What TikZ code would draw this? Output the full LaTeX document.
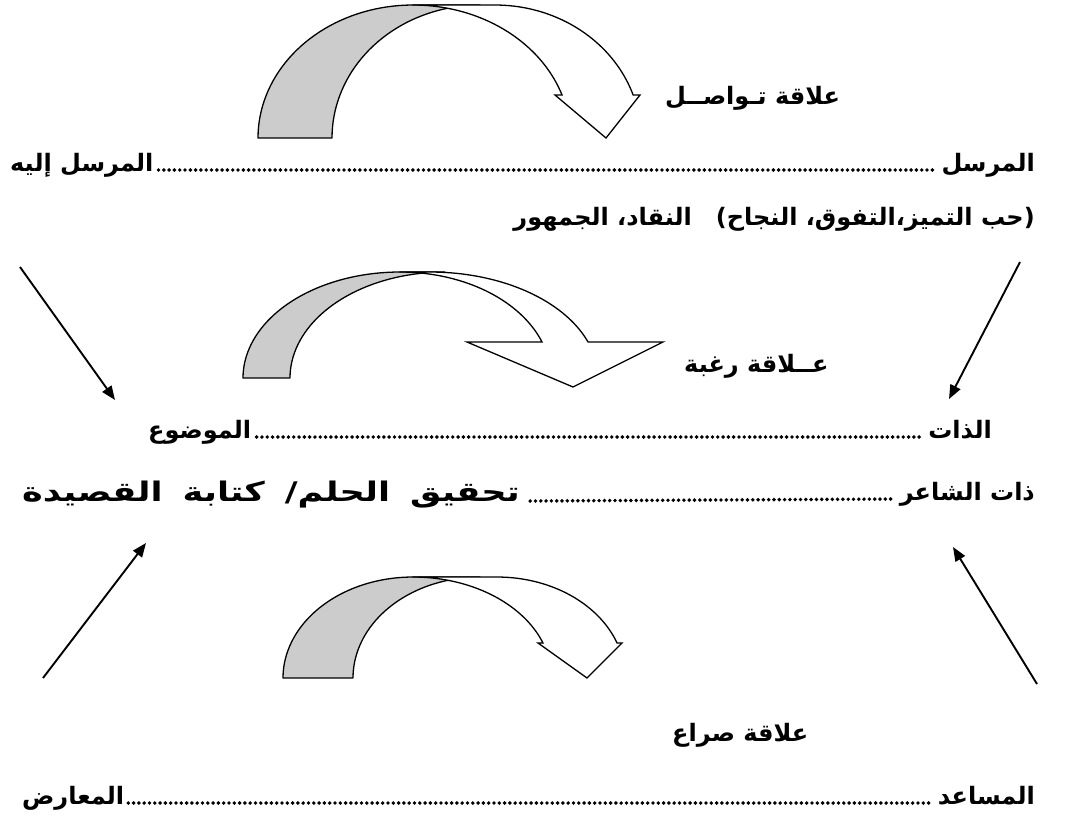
\documentclass[tikz,border=0pt]{standalone}
\usepackage{fontspec}
\usetikzlibrary{arrows.meta}
\newfontfamily\arabicfont[Script=Arabic]{DejaVu Sans}
\TeXXeTstate=1
\begin{document}
\begin{tikzpicture}[x=1pt,y=-1pt,
  txt/.style={font=\fontsize{24}{28}\selectfont\arabicfont\bfseries, inner sep=0pt},
  back/.style={fill=black!20, draw=black, line width=1.3pt, line join=round},
  front/.style={fill=white, draw=black, line width=1.3pt, line join=miter},
  ptr/.style={line width=1.9pt, -{Triangle[length=14pt,width=11pt]}},
  dotline/.style={line width=3.9pt, line cap=round, dash pattern=on 0pt off 5.3pt}]
\useasboundingbox (0,0) rectangle (1067,820);

% ---------- block arrow 1 (communication) ----------
\draw[back] plot[domain=180:90, samples=40] ({413+155*cos(\x)},{138-133*sin(\x)})
  -- plot[domain=90:180, samples=40] ({480+148*cos(\x)},{138-133*sin(\x)}) -- cycle;
\draw[front] (413,5) -- plot[domain=90:18.9, samples=40] ({495+146*cos(\x)},{138-133*sin(\x)})
  -- (640,95) -- (606,138) -- (555,95)
  -- plot[domain=18.9:90, samples=40] ({413+157.5*cos(\x)},{138-133*sin(\x)}) -- cycle;

% ---------- block arrow 2 (desire) ----------
\draw[back] plot[domain=180:90, samples=40] ({400+157*cos(\x)},{378-106*sin(\x)})
  -- plot[domain=90:180, samples=40] ({445+155*cos(\x)},{378-106*sin(\x)}) -- cycle;
\draw[front] (400,272) -- plot[domain=90:19.9, samples=40] ({430+168*cos(\x)},{378-106*sin(\x)})
  -- (663,342) -- (573,387) -- (467,342)
  -- plot[domain=19.9:90, samples=40] ({400+151*cos(\x)},{378-106*sin(\x)}) -- cycle;

% ---------- block arrow 3 (conflict) ----------
\draw[back] plot[domain=180:90, samples=40] ({413+130*cos(\x)},{678-101*sin(\x)})
  -- plot[domain=90:180, samples=40] ({480+127*cos(\x)},{678-101*sin(\x)}) -- cycle;
\draw[front] (413,577) -- plot[domain=90:20.3, samples=40] ({497+128*cos(\x)},{678-101*sin(\x)})
  -- (622,643) -- (587,678) -- (538,643)
  -- plot[domain=20.3:90, samples=40] ({413+138.6*cos(\x)},{678-101*sin(\x)}) -- cycle;

% ---------- texts ----------
\node[txt, anchor=base west] (lab1) at (665,104) {\beginR علاقة تـواصــل\endR};

\node[txt, anchor=base east] (sender) at (1035,171) {\beginR المرسل\endR};
\node[txt, anchor=base west] (receiver) at (10,171) {\beginR المرسل إليه\endR};
\draw[dotline] ([xshift=-9pt,yshift=1pt]sender.base west) -- ([xshift=3pt,yshift=1pt]receiver.base east);

\node[txt, anchor=base east] (row2) at (1035,225) {\beginR(حب التميز،التفوق، النجاح)\quad النقاد، الجمهور\endR};

\node[txt, anchor=base west] (lab2) at (684,372) {\beginR عــلاقة رغبة\endR};

\node[txt, anchor=base east] (subject) at (992,438) {\beginR الذات\endR};
\node[txt, anchor=base west] (object) at (148,438) {\beginR الموضوع\endR};
\draw[dotline] ([xshift=-9pt,yshift=1pt]subject.base west) -- ([xshift=3pt,yshift=1pt]object.base east);

\node[txt, anchor=base east] (poet) at (1035,500) {\beginR ذات الشاعر\endR};
\node[txt, anchor=base west, font=\fontsize{27}{31}\selectfont\arabicfont\bfseries] (dream) at (22,501)
  {\scalebox{1.3}[1]{\beginR تحقيق \hspace{6pt}الحلم/ \hspace{6pt}كتابة \hspace{6pt}القصيدة\endR}};
\draw[dotline] ([xshift=-9pt,yshift=1pt]poet.base west) -- ([xshift=10pt,yshift=0pt]dream.base east);

\node[txt, anchor=base west] (lab3) at (672,741) {\beginR علاقة صراع\endR};

\node[txt, anchor=base east] (helper) at (1035,804) {\beginR المساعد\endR};
\node[txt, anchor=base west] (opponent) at (22,804) {\beginR المعارض\endR};
\draw[dotline] ([xshift=-9pt,yshift=1pt]helper.base west) -- ([xshift=3pt,yshift=1pt]opponent.base east);

% ---------- straight arrows ----------
\coordinate (p1s) at (20,267);   \coordinate (p1e) at (115,400);
\coordinate (p2s) at (1020,262); \coordinate (p2e) at (949,399);
\coordinate (p3s) at (43,678);   \coordinate (p3e) at (146,543);
\coordinate (p4s) at (1037,684); \coordinate (p4e) at (953,547);
\draw[ptr] (p1s) -- (p1e);
\draw[ptr] (p2s) -- (p2e);
\draw[ptr] (p3s) -- (p3e);
\draw[ptr] (p4s) -- (p4e);
\end{tikzpicture}
\end{document}
